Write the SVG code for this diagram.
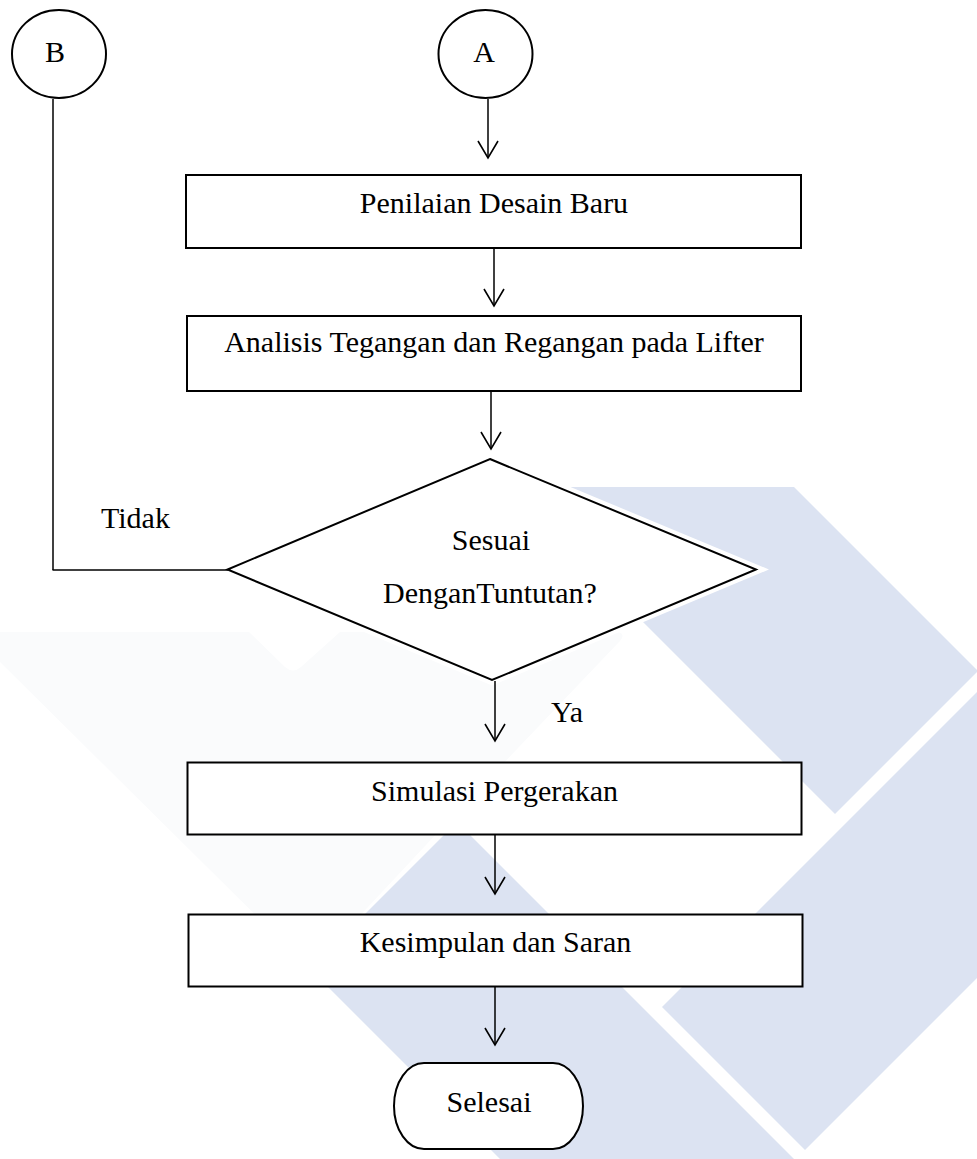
<svg xmlns="http://www.w3.org/2000/svg" width="977" height="1159" viewBox="0 0 977 1159">
  <style>
    .wm { fill: #dce3f2; stroke: none; }
    .wmf { fill: #fafbfc; stroke: none; }
    .box { fill: #ffffff; stroke: #000000; stroke-width: 2; }
    .halo { fill: #ffffff; stroke: #ffffff; stroke-width: 10; stroke-linejoin: miter; }
    .conn { fill: none; stroke: #000000; stroke-width: 1.5; }
    .lbl { font-family: "Liberation Serif", "Times New Roman", serif; font-size: 30px; fill: #000000; }
    .c { text-anchor: middle; }
  </style>
  <defs>
    <marker id="arrow" markerUnits="userSpaceOnUse" viewBox="-20 -12 22 24" refX="0" refY="0" markerWidth="22" markerHeight="24" orient="auto" overflow="visible">
      <path d="M-17,-10 L0,0 L-17,10" fill="none" stroke="#000000" stroke-width="1.6"/>
    </marker>
  </defs>
  <rect x="0" y="0" width="977" height="1159" fill="#ffffff"/>

  <g id="watermark">
    <path class="wmf" d="M0,632 L249,632 L285,667 Q293,674 301,667 L340,632 L618,632 Q626,634 620,641 L440,830 L310,969 L0,662 Z"/>
    <polygon class="wm" points="508,487 794,487 978,671 835,814"/>
    <polygon class="wm" points="662,1007 805,1150 977,978 977,692"/>
    <polygon class="wm" points="457,822 794,1159 500,1159 310,969"/>
    <polygon class="halo" points="490,459 756,569.5 492,680 227.5,569.5"/>
  </g>

  <g id="connectors">
    <line class="conn" x1="53" y1="99" x2="53" y2="570" stroke-width="1.3"/>
    <line class="conn" x1="52.5" y1="570" x2="228" y2="570" stroke-width="2"/>
    <line class="conn" x1="488" y1="99" x2="488" y2="158" marker-end="url(#arrow)"/>
    <line class="conn" x1="494" y1="248" x2="494" y2="306" marker-end="url(#arrow)"/>
    <line class="conn" x1="491" y1="391" x2="491" y2="449" marker-end="url(#arrow)"/>
    <line class="conn" x1="495" y1="681" x2="495" y2="741" marker-end="url(#arrow)"/>
    <line class="conn" x1="495" y1="835" x2="495" y2="894" marker-end="url(#arrow)"/>
    <line class="conn" x1="495" y1="987" x2="495" y2="1045" marker-end="url(#arrow)"/>
    <text class="lbl" x="101" y="528">Tidak</text>
    <text class="lbl" x="551" y="722">Ya</text>
  </g>

  <g id="node-B">
    <ellipse class="box" cx="59" cy="54" rx="47" ry="44"/>
    <text class="lbl c" x="55" y="62">B</text>
  </g>

  <g id="node-A">
    <ellipse class="box" cx="485.5" cy="54" rx="47" ry="44"/>
    <text class="lbl c" x="484" y="62">A</text>
  </g>

  <g id="node-penilaian">
    <rect class="box" x="186" y="175" width="615" height="73"/>
    <text class="lbl c" x="494" y="213">Penilaian Desain Baru</text>
  </g>

  <g id="node-analisis">
    <rect class="box" x="187" y="316" width="614" height="75"/>
    <text class="lbl c" x="494" y="352">Analisis Tegangan dan Regangan pada Lifter</text>
  </g>

  <g id="node-sesuai">
    <polygon class="box" points="490,459 756,569.5 492,680 227.5,569.5"/>
    <text class="lbl c" x="491" y="550">Sesuai</text>
    <text class="lbl c" x="490" y="603">DenganTuntutan?</text>
  </g>

  <g id="node-simulasi">
    <rect class="box" x="187.5" y="762.5" width="614" height="72"/>
    <text class="lbl c" x="494.5" y="801">Simulasi Pergerakan</text>
  </g>

  <g id="node-kesimpulan">
    <rect class="box" x="188.5" y="914.5" width="614" height="72"/>
    <text class="lbl c" x="495.5" y="952">Kesimpulan dan Saran</text>
  </g>

  <g id="node-selesai">
    <rect class="box" x="394" y="1063" width="189" height="86" rx="30" ry="43"/>
    <text class="lbl c" x="489" y="1112">Selesai</text>
  </g>
</svg>
